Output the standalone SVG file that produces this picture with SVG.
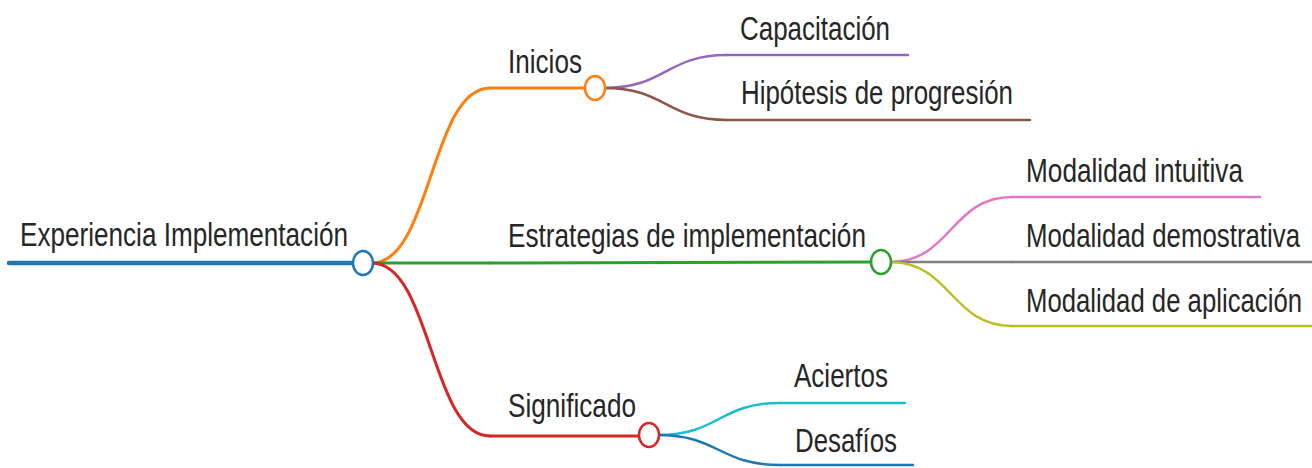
<svg xmlns="http://www.w3.org/2000/svg" width="1312" height="468" viewBox="0 0 1312 468">
<style>
text{font-family:"Liberation Sans",Arial,sans-serif;font-size:26px;fill:#262626}
.ln{fill:none;stroke-linecap:round}
.c{fill:#fff;stroke-width:2.5}
</style>
<rect width="1312" height="468" fill="#fff"/>
<g id="connectors" class="links">
<path class="ln" d="M372,263 C431,263 431,88 490,88" stroke="#ff7f0e" stroke-width="3"/>
<path class="ln" d="M372,263 L490,263" stroke="#2ca02c" stroke-width="3"/>
<path class="ln" d="M372,263 C431,263 431,436 490,436" stroke="#d62728" stroke-width="3"/>
<path class="ln" d="M604,88 C666,88 666,55 727,55" stroke="#9467bd" stroke-width="2.5"/>
<path class="ln" d="M604,88 C666,88 666,120 727,120" stroke="#8c564b" stroke-width="2.5"/>
<path class="ln" d="M890,262 C951,262 951,197 1012,197" stroke="#e377c2" stroke-width="2.5"/>
<path class="ln" d="M890,262 L1012,262" stroke="#7f7f7f" stroke-width="2.5"/>
<path class="ln" d="M890,262 C951,262 951,326 1012,326" stroke="#bcbd22" stroke-width="2.5"/>
<path class="ln" d="M658,435 C719,435 719,403 780,403" stroke="#17becf" stroke-width="2.5"/>
<path class="ln" d="M658,435 C719,435 719,465 780,465" stroke="#1f77b4" stroke-width="2.5"/>
</g>
<g id="root">
<path class="ln" d="M9,263 L353,263" stroke="#1f77b4" stroke-width="4.5"/>
<text transform="translate(20,246) scale(1,1.28)" textLength="328" lengthAdjust="spacingAndGlyphs">Experiencia Implementación</text>
<ellipse class="c" cx="363" cy="263" rx="10" ry="12" stroke="#1f77b4"/>
</g>
<g id="inicios">
<path class="ln" d="M490,88 L585,88" stroke="#ff7f0e" stroke-width="3"/>
<text transform="translate(508,73) scale(1,1.28)" textLength="74" lengthAdjust="spacingAndGlyphs">Inicios</text>
<ellipse class="c" cx="595" cy="88" rx="10" ry="12" stroke="#ff7f0e"/>
</g>
<g id="capacitacion">
<path class="ln" d="M727,55 L908,55" stroke="#9467bd" stroke-width="2.5"/>
<text transform="translate(740,40) scale(1,1.28)" textLength="150" lengthAdjust="spacingAndGlyphs">Capacitación</text>
</g>
<g id="hipotesis">
<path class="ln" d="M727,120 L1030,120" stroke="#8c564b" stroke-width="2.5"/>
<text transform="translate(741,104) scale(1,1.28)" textLength="272" lengthAdjust="spacingAndGlyphs">Hipótesis de progresión</text>
</g>
<g id="estrategias">
<path class="ln" d="M490,263 L871,262" stroke="#2ca02c" stroke-width="3"/>
<text transform="translate(508,247) scale(1,1.28)" textLength="358" lengthAdjust="spacingAndGlyphs">Estrategias de implementación</text>
<ellipse class="c" cx="881" cy="262" rx="10" ry="12" stroke="#2ca02c"/>
</g>
<g id="intuitiva">
<path class="ln" d="M1012,197 L1260,197" stroke="#e377c2" stroke-width="2.5"/>
<text transform="translate(1026,182) scale(1,1.28)" textLength="217" lengthAdjust="spacingAndGlyphs">Modalidad intuitiva</text>
</g>
<g id="demostrativa">
<path class="ln" d="M1012,262 L1312,262" stroke="#7f7f7f" stroke-width="2.5"/>
<text transform="translate(1026,247) scale(1,1.28)" textLength="274" lengthAdjust="spacingAndGlyphs">Modalidad demostrativa</text>
</g>
<g id="aplicacion">
<path class="ln" d="M1012,326 L1312,326" stroke="#bcbd22" stroke-width="2.5"/>
<text transform="translate(1026,312) scale(1,1.28)" textLength="276" lengthAdjust="spacingAndGlyphs">Modalidad de aplicación</text>
</g>
<g id="significado">
<path class="ln" d="M490,436 L639,436" stroke="#d62728" stroke-width="3"/>
<text transform="translate(508,417) scale(1,1.28)" textLength="128" lengthAdjust="spacingAndGlyphs">Significado</text>
<ellipse class="c" cx="649" cy="435" rx="10" ry="12" stroke="#d62728"/>
</g>
<g id="aciertos">
<path class="ln" d="M780,403 L905,403" stroke="#17becf" stroke-width="2.5"/>
<text transform="translate(794,387) scale(1,1.28)" textLength="94" lengthAdjust="spacingAndGlyphs">Aciertos</text>
</g>
<g id="desafios">
<path class="ln" d="M780,465 L913,465" stroke="#1f77b4" stroke-width="2.5"/>
<text transform="translate(795,452) scale(1,1.28)" textLength="102" lengthAdjust="spacingAndGlyphs">Desafíos</text>
</g>
</svg>
